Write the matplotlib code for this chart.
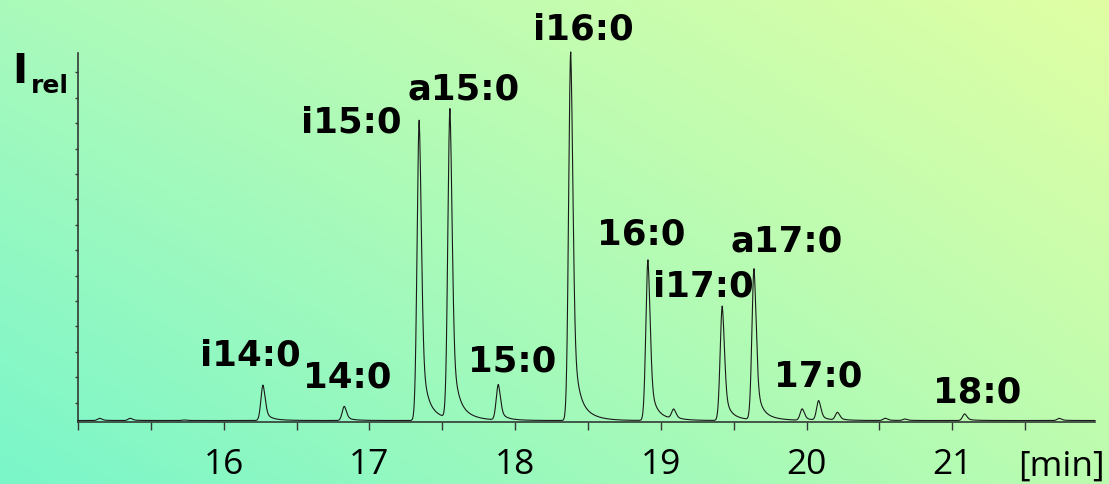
import numpy as np
import matplotlib
matplotlib.use("Agg")
import matplotlib.pyplot as plt
from matplotlib.ticker import MultipleLocator

# ---------------- data ----------------
# retention time [min] and relative height (i16:0 = 100) of each peak
peak_rt = [15.149, 15.359, 15.73, 16.270, 16.828, 17.342, 17.553, 17.885,
           18.382, 18.912, 19.089, 19.422, 19.640, 19.971, 20.084, 20.213,
           20.541, 20.676, 21.086, 21.735]
peak_height = [0.6, 0.6, 0.15, 9.6, 3.85, 81.4, 83.9, 9.6,
               99.9, 43.5, 2.6, 31.0, 40.9, 3.1, 5.3, 2.1,
               0.6, 0.4, 1.8, 0.6]
baseline_level = 0.4

label_texts = ["i14:0", "14:0", "i15:0", "a15:0", "15:0", "i16:0",
               "16:0", "i17:0", "a17:0", "17:0", "18:0"]

x_ticks_major = [16, 17, 18, 19, 20, 21]
x_tick_labels = ["16", "17", "18", "19", "20", "21"]
x_unit = "[min]"

# ---------------- layout ----------------
W, H = 1109, 484
fig = plt.figure(figsize=(W / 100, H / 100), dpi=100)

# gradient background
bg = fig.add_axes([0, 0, 1, 1], zorder=-10)
bg.set_axis_off()
c_tl = np.array([170, 250, 187]) / 255
c_tr = np.array([224, 255, 164]) / 255
c_bl = np.array([122, 246, 202]) / 255
c_br = np.array([188, 252, 176]) / 255
u = np.linspace(0, 1, 300)[None, :, None]
v = np.linspace(0, 1, 150)[:, None, None]
img = (1 - v) * ((1 - u) * c_tl + u * c_tr) + v * ((1 - u) * c_bl + u * c_br)
bg.imshow(img, aspect="auto", extent=[0, 1, 0, 1], interpolation="bilinear")
bg.set_xlim(0, 1)
bg.set_ylim(0, 1)

ax_left_px, ax_right_px = 78, 1095
ax_bottom_px, ax_top_px = 422, 52.7
ax = fig.add_axes([ax_left_px / W, (H - ax_bottom_px) / H,
                   (ax_right_px - ax_left_px) / W,
                   (ax_bottom_px - ax_top_px) / H])
ax.patch.set_alpha(0)

# chromatogram trace built from the peak table (tailing peak shape)
t = np.linspace(15.0, 21.98, 8000)
px_per_min = 145.7
sig_l = 2.1 / px_per_min
sig_r = 2.2 / px_per_min
tau1, tau2 = 4.0 / px_per_min, 12.0 / px_per_min
trace = np.full_like(t, baseline_level)
for rt, h in zip(peak_rt, peak_height):
    d = t - rt
    dp = np.clip(d, 0, None)
    left = np.exp(-d ** 2 / (2 * sig_l ** 2))
    right = (0.6 * np.exp(-dp ** 2 / (2 * sig_r ** 2))
             + 0.3 * np.exp(-dp / tau1) + 0.1 * np.exp(-dp / tau2))
    trace += h * np.where(d < 0, left, right)
ax.plot(t, trace, color="#1a1a1a", lw=0.8, clip_on=False, zorder=3)

ax.set_xlim(15.0, 21.98)
ax.set_ylim(0, 100)
for s in ("top", "right"):
    ax.spines[s].set_visible(False)
for s in ("left", "bottom"):
    ax.spines[s].set_color("#333a36")
    ax.spines[s].set_linewidth(1.2)

ax.set_xticks(x_ticks_major)
ax.set_xticklabels(x_tick_labels, fontfamily="Open Sans", fontsize=25.5)
ax.xaxis.set_minor_locator(MultipleLocator(0.5))
ax.tick_params(axis="x", which="both", direction="out", length=6, width=1,
               color="#333a36", pad=13)
ax.set_yticks(5.23 + 6.88 * np.arange(14))
ax.set_yticklabels([])
ax.tick_params(axis="y", direction="out", length=2.5, width=1, color="#333a36")

# peak labels (pixel positions: centre x, baseline y)
label_pos = [(250, 365), (347.5, 387.7), (351.5, 133), (464, 100), (512.3, 371.7),
             (583.5, 39.3), (641.3, 244.3), (703.3, 296.7), (786.3, 251.7),
             (817.8, 386.5), (977, 402.3)]
for txt, (px, py) in zip(label_texts, label_pos):
    fig.text(px / W, 1 - py / H, txt, ha="center", va="baseline",
             fontfamily="DejaVu Sans", fontweight="bold", fontsize=25.6)

# y label I_rel
fig.text(12.5 / W, 1 - 83.3 / H, "I", ha="left", va="baseline",
         fontfamily="DejaVu Sans", fontweight="bold", fontsize=29)
fig.text(31 / W, 1 - 93.3 / H, "rel", ha="left", va="baseline",
         fontfamily="DejaVu Sans", fontweight="bold", fontsize=18)

# x unit
fig.text(1061.5 / W, 1 - 476 / H, x_unit, ha="center", va="baseline",
         fontfamily="Open Sans", fontsize=25.5)

fig.savefig("out.png", dpi=100)
